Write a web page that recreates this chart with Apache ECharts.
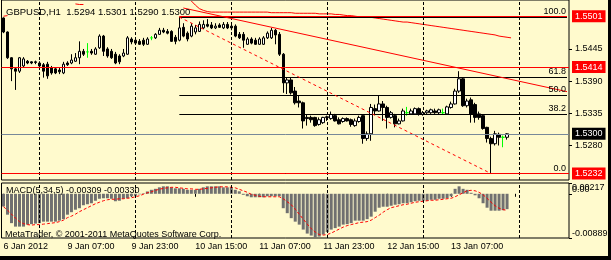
<!DOCTYPE html>
<html><head><meta charset="utf-8">
<script src="https://cdn.jsdelivr.net/npm/echarts@6/dist/echarts.min.js"></script>
<style>html,body{margin:0;padding:0;background:#FFFACD;}#c{width:611px;height:260px;}</style>
</head><body><div id="c"></div>
<script>
const symbol = 'GBPUSD,H1';
const timeLabels = ['6 Jan 2012','9 Jan 07:00','9 Jan 23:00','10 Jan 15:00','11 Jan 07:00','11 Jan 23:00','12 Jan 15:00','13 Jan 07:00'];
const labelStep = 16;
const totalSlots = 142;
const daySeparators = [9,33,57,81,105,129];

const opens = [1.5498,1.5474,1.5430,1.5411,1.5407,1.5416,1.5424,1.5423,1.5423,1.5421,
1.5418,1.5419,1.5413,1.5411,1.5409,1.5404,1.5421,1.5421,1.5424,1.5430,
1.5441,1.5440,1.5441,1.5436,1.5447,1.5467,1.5445,1.5441,1.5436,1.5433,
1.5433,1.5436,1.5462,1.5460,1.5458,1.5460,1.5453,1.5464,1.5464,1.5470,
1.5477,1.5475,1.5475,1.5465,1.5460,1.5482,1.5472,1.5467,1.5474,1.5475,
1.5481,1.5487,1.5486,1.5481,1.5486,1.5481,1.5487,1.5484,1.5484,1.5470,
1.5470,1.5453,1.5462,1.5460,1.5453,1.5453,1.5464,1.5464,1.5477,1.5470,
1.5436,1.5387,1.5392,1.5373,1.5356,1.5353,1.5328,1.5328,1.5328,1.5316,
1.5319,1.5329,1.5326,1.5331,1.5324,1.5321,1.5326,1.5324,1.5314,1.5321,
1.5331,1.5292,1.5300,1.5343,1.5339,1.5351,1.5345,1.5328,1.5331,1.5317,
1.5322,1.5336,1.5334,1.5334,1.5343,1.5333,1.5336,1.5336,1.5339,1.5336,
1.5336,1.5334,1.5345,1.5351,1.5373,1.5394,1.5348,1.5358,1.5350,1.5334,
1.5331,1.5311,1.5292,1.5283,1.5299,1.5294,1.5294];
const highs = [1.5499,1.5475,1.5431,1.5414,1.5431,1.5431,1.5426,1.5424,1.5425,1.5424,
1.5421,1.5423,1.5416,1.5414,1.5413,1.5423,1.5424,1.5436,1.5438,1.5458,
1.5445,1.5455,1.5445,1.5448,1.5470,1.5469,1.5448,1.5445,1.5440,1.5436,
1.5445,1.5467,1.5465,1.5464,1.5462,1.5464,1.5465,1.5467,1.5472,1.5481,
1.5481,1.5479,1.5477,1.5469,1.5500,1.5489,1.5475,1.5489,1.5486,1.5492,
1.5494,1.5496,1.5491,1.5489,1.5489,1.5491,1.5491,1.5487,1.5487,1.5474,
1.5474,1.5465,1.5465,1.5464,1.5465,1.5467,1.5475,1.5481,1.5479,1.5474,
1.5438,1.5397,1.5396,1.5380,1.5365,1.5355,1.5333,1.5331,1.5329,1.5328,
1.5329,1.5331,1.5338,1.5334,1.5328,1.5328,1.5328,1.5326,1.5326,1.5331,
1.5333,1.5304,1.5351,1.5350,1.5365,1.5356,1.5348,1.5339,1.5334,1.5326,
1.5343,1.5346,1.5343,1.5345,1.5345,1.5339,1.5341,1.5343,1.5343,1.5343,
1.5343,1.5348,1.5355,1.5377,1.5407,1.5397,1.5360,1.5362,1.5353,1.5338,
1.5333,1.5312,1.5295,1.5305,1.5302,1.5297,1.5301];
const lows = [1.5472,1.5428,1.5390,1.5375,1.5404,1.5413,1.5419,1.5419,1.5419,1.5413,
1.5396,1.5394,1.5401,1.5402,1.5402,1.5402,1.5416,1.5419,1.5423,1.5419,
1.5433,1.5430,1.5435,1.5435,1.5445,1.5433,1.5430,1.5428,1.5419,1.5419,
1.5431,1.5435,1.5453,1.5453,1.5452,1.5450,1.5452,1.5460,1.5462,1.5469,
1.5472,1.5470,1.5457,1.5453,1.5458,1.5465,1.5458,1.5465,1.5470,1.5474,
1.5479,1.5482,1.5479,1.5479,1.5481,1.5479,1.5479,1.5477,1.5465,1.5462,
1.5447,1.5452,1.5453,1.5452,1.5452,1.5452,1.5462,1.5462,1.5453,1.5433,
1.5370,1.5368,1.5367,1.5350,1.5345,1.5309,1.5314,1.5319,1.5312,1.5314,
1.5317,1.5322,1.5324,1.5321,1.5316,1.5319,1.5321,1.5312,1.5312,1.5319,
1.5283,1.5288,1.5288,1.5333,1.5338,1.5322,1.5309,1.5326,1.5311,1.5316,
1.5321,1.5331,1.5333,1.5333,1.5331,1.5331,1.5334,1.5334,1.5334,1.5333,
1.5333,1.5333,1.5343,1.5350,1.5370,1.5346,1.5345,1.5319,1.5319,1.5324,
1.5307,1.5285,1.5232,1.5280,1.5280,1.5277,1.5290];
const closes = [1.5474,1.5430,1.5411,1.5407,1.5430,1.5428,1.5421,1.5421,1.5422,1.5416,
1.5407,1.5399,1.5404,1.5404,1.5406,1.5419,1.5418,1.5426,1.5430,1.5441,
1.5436,1.5440,1.5438,1.5445,1.5467,1.5441,1.5433,1.5430,1.5421,1.5423,
1.5438,1.5464,1.5457,1.5455,1.5453,1.5453,1.5462,1.5464,1.5470,1.5477,
1.5474,1.5472,1.5458,1.5458,1.5481,1.5467,1.5462,1.5484,1.5481,1.5487,
1.5487,1.5484,1.5481,1.5484,1.5482,1.5487,1.5481,1.5481,1.5467,1.5464,
1.5460,1.5462,1.5455,1.5453,1.5462,1.5464,1.5472,1.5477,1.5469,1.5436,
1.5387,1.5392,1.5370,1.5353,1.5353,1.5322,1.5326,1.5324,1.5314,1.5324,
1.5328,1.5328,1.5333,1.5322,1.5317,1.5326,1.5322,1.5316,1.5322,1.5328,
1.5292,1.5300,1.5345,1.5339,1.5351,1.5345,1.5328,1.5336,1.5317,1.5322,
1.5339,1.5336,1.5339,1.5343,1.5334,1.5336,1.5339,1.5341,1.5336,1.5341,
1.5336,1.5346,1.5351,1.5373,1.5394,1.5348,1.5356,1.5334,1.5328,1.5328,
1.5309,1.5292,1.5283,1.5300,1.5294,1.5294,1.5300];

// long moving average (null where it runs above the visible price range)
const maLine = [1.5501,1.5502,
null,null,null,null,null,null,null,null,null,null,null,null,null,null,null,null,
1.5522,1.5521,1.5521,
null,null,null,null,null,null,null,null,null,null,null,null,null,
null,null,null,null,null,null,null,null,null,null,null,null,null,
1.5527,1.5520,1.5514,1.5511,1.5509,1.5508,1.5508,1.5508,1.5508,1.5508,1.5508,1.5508,1.5508,1.5508,
1.5508,1.5508,1.5508,1.5508,1.5508,1.5508,1.5507,1.5507,1.5507,1.5507,1.5507,1.5507,1.5506,1.5506,
1.5506,1.5506,1.5506,1.5506,1.5505,1.5505,1.5505,1.5505,1.5504,1.5504,1.5503,1.5502,1.5502,1.5501,
1.5500,1.5500,1.5499,1.5499,1.5498,1.5497,1.5496,1.5495,1.5494,1.5493,1.5492,1.5491,1.5491,1.5490,
1.5489,1.5488,1.5487,1.5486,1.5485,1.5484,1.5483,1.5482,1.5481,1.5480,1.5479,1.5478,1.5477,1.5476,
1.5475,1.5474,1.5473,1.5472,1.5471,1.5470,1.5469,1.5467,1.5466,1.5465,1.5464];

const macdHist = [-0.00255,-0.0042,-0.0059,-0.0066,-0.0066,-0.0066,-0.0062,-0.0061,-0.0060,-0.0059,
-0.0056,-0.0056,-0.0056,-0.0056,-0.0054,-0.0051,-0.0042,-0.0037,-0.0032,-0.0029,
-0.0023,-0.0021,-0.0019,-0.0014,-0.0010,-0.0009,-0.0009,-0.0010,-0.0015,-0.0014,
-0.0010,-0.0009,-0.0005,-0.0004,-0.0001,0.0001,0.00047,0.0008,0.0010,0.0013,
0.0015,0.0015,0.0013,0.0011,0.0011,0.0010,0.0008,0.0008,0.0008,0.0010,
0.0013,0.0015,0.0015,0.0015,0.0015,0.0013,0.0013,0.0013,0.0008,0.0005,
-0.0002,-0.0005,-0.0007,-0.0007,-0.0007,-0.0007,-0.0005,-0.0005,-0.0005,-0.0005,
-0.0029,-0.0039,-0.0049,-0.0056,-0.0062,-0.0072,-0.0080,-0.0084,-0.0088,-0.0086,
-0.0082,-0.0077,-0.0072,-0.0069,-0.0066,-0.0062,-0.0061,-0.0059,-0.0054,-0.0054,
-0.0054,-0.0051,-0.0046,-0.0036,-0.0028,-0.0026,-0.0026,-0.0024,-0.0022,-0.0021,
-0.0019,-0.0019,-0.0017,-0.0015,-0.0014,-0.0014,-0.0014,-0.0012,-0.0012,-0.0010,
-0.0010,-0.0009,-0.0005,0.0010,0.0015,0.0010,0.0008,0.0002,-0.0003,-0.0009,
-0.0019,-0.0028,-0.0034,-0.0034,-0.0034,-0.0033,-0.00309];
const macdSignal = [-0.0026,-0.0033,-0.0041,-0.0049,-0.0056,-0.0060,-0.0062,-0.0063,-0.0062,-0.0062,
-0.0061,-0.0060,-0.0059,-0.0058,-0.0056,-0.0053,-0.0048,-0.0045,-0.0041,-0.0036,
-0.0032,-0.0028,-0.0024,-0.0020,-0.0017,-0.0014,-0.0012,-0.0011,-0.0011,-0.0010,
-0.0010,-0.0009,-0.0008,-0.0006,-0.0004,-0.0001,0.0002,0.0004,0.0007,0.0009,
0.0011,0.0012,0.0013,0.0013,0.0012,0.0011,0.0010,0.0010,0.0009,0.0009,
0.0010,0.0011,0.0012,0.0013,0.0014,0.0014,0.0014,0.0013,0.0012,0.0009,
0.0006,0.0003,-0.0001,-0.0003,-0.0005,-0.0006,-0.0006,-0.0006,-0.0006,-0.0006,
-0.0010,-0.0016,-0.0022,-0.0031,-0.0041,-0.0051,-0.0061,-0.0070,-0.0077,-0.0082,
-0.0083,-0.0082,-0.0079,-0.0075,-0.0071,-0.0067,-0.0064,-0.0062,-0.0060,-0.0058,
-0.0057,-0.0056,-0.0053,-0.0048,-0.0043,-0.0037,-0.0032,-0.0028,-0.0026,-0.0024,
-0.0022,-0.0021,-0.0019,-0.0017,-0.0016,-0.0015,-0.0014,-0.0013,-0.0013,-0.0012,
-0.0011,-0.0010,-0.0009,-0.0006,-0.0002,0.0002,0.0006,0.0007,0.0006,0.0003,
-0.0002,-0.0009,-0.0017,-0.0024,-0.0029,-0.0032,-0.0033];
const macdParams = '5,34,5';
const macdMin = -0.00889, macdMax = 0.00217;

const priceMin = 1.52210, priceMax = 1.55287;
const priceTicks = [1.5445, 1.5390, 1.5335, 1.5280];
const bidPrice = 1.5300;
const redLevels = [1.5414, 1.5232];
const topRedLevel = 1.5501;
const topRedStart = 44;
const fibLow = 1.5232, fibHigh = 1.54995, fibStartIdx = 44, fibEndIdx = 122;
const fibLevels = [0, 38.2, 50, 61.8, 100];
const trendLine = [[45, 1.5515], [141, 1.5372]];

const FONT = 'Liberation Sans, Arial, sans-serif';
const BG = '#FFFACD';
const cats = Array.from({length: totalSlots}, (_, i) => String(i));
const last = opens.length - 1;

const candleData = opens.map((o, i) => {
  const item = {value: [o, closes[i], lows[i], highs[i]]};
  if (o === closes[i]) item.itemStyle = {color: '#00FF00', color0: '#00FF00', borderColor: '#00FF00', borderColor0: '#00FF00'};
  return item;
});

const boxLabel = (bg) => ({show: true, position: 'end', distance: 3, formatter: p => p.value.toFixed(4),
  backgroundColor: bg, color: '#fff', fontSize: 9, fontFamily: FONT, padding: [2, 3, 1, 3]});

const mlData = [];
daySeparators.forEach(d => mlData.push({xAxis: d, lineStyle: {color: '#000', type: [3, 2], width: 1}, label: {show: false}}));
fibLevels.forEach(l => {
  const v = fibLow + (fibHigh - fibLow) * l / 100;
  mlData.push([{coord: [fibStartIdx, v], lineStyle: {color: '#000', width: 1, type: 'solid'},
    label: {show: true, position: 'insideEndTop', distance: 1, formatter: l.toFixed(1), color: '#000', fontSize: 9, fontFamily: FONT}},
    {coord: [totalSlots - 1, v]}]);
});
mlData.push([{coord: [fibStartIdx, fibHigh], lineStyle: {color: '#FF0000', width: 1, type: [3, 3]}, label: {show: false}},
  {coord: [fibEndIdx, fibLow]}]);
mlData.push([{coord: trendLine[0], lineStyle: {color: '#FF0000', width: 1, type: 'solid'}, label: {show: false}},
  {coord: trendLine[1]}]);
mlData.push({yAxis: bidPrice, lineStyle: {color: '#778899', width: 1, type: 'solid'}, label: boxLabel('#000')});
redLevels.forEach(v => mlData.push({yAxis: v, lineStyle: {color: '#FF0000', width: 1, type: 'solid'}, label: boxLabel('#FF0000')}));
mlData.push([{coord: [topRedStart, topRedLevel], lineStyle: {color: '#FF0000', width: 1, type: 'solid'}, label: {show: false}},
  {coord: [totalSlots - 1, topRedLevel]}]);
mlData.push({yAxis: topRedLevel, lineStyle: {color: 'rgba(0,0,0,0)', width: 0}, label: boxLabel('#FF0000')});

const axisFont = {color: '#000', fontSize: 9, fontFamily: FONT};

const option = {
  backgroundColor: BG,
  animation: false,
  title: [
    {text: `${symbol}  ${opens[last].toFixed(4)} ${highs[last].toFixed(4)} ${lows[last].toFixed(4)} ${closes[last].toFixed(4)}`,
      left: 6, top: 7, padding: 0, textStyle: {fontSize: 9.5, fontWeight: 'normal', color: '#000', fontFamily: FONT}},
    {text: `MACD(${macdParams}) ${macdHist[last].toFixed(5)} ${macdSignal[last].toFixed(5)}`,
      left: 6, top: 186, padding: 0, textStyle: {fontSize: 9, fontWeight: 'normal', color: '#000', fontFamily: FONT}},
    {text: 'MetaTrader, \u00A9 2001-2011 MetaQuotes Software Corp.',
      left: 5, top: 230, padding: 0, textStyle: {fontSize: 9, fontWeight: 'normal', color: '#000', fontFamily: FONT}}
  ],
  grid: [
    {left: 1.5, top: -1, width: 567.5, height: 181, show: true, borderColor: '#000', borderWidth: 1, backgroundColor: 'transparent'},
    {left: 1.5, top: 183, width: 567.5, height: 55, show: true, borderColor: '#000', borderWidth: 1, backgroundColor: 'transparent'}
  ],
  xAxis: [
    {gridIndex: 0, type: 'category', data: cats, boundaryGap: true, axisLine: {show: false}, axisTick: {show: false}, axisLabel: {show: false}, splitLine: {show: false}},
    {gridIndex: 1, type: 'category', data: cats, boundaryGap: true, axisLine: {show: false},
      axisTick: {show: true, interval: labelStep - 1, alignWithLabel: true, length: 3, lineStyle: {color: '#000'}},
      axisLabel: Object.assign({interval: labelStep - 1, align: 'left', margin: 4,
        formatter: (v, i) => timeLabels[Math.round(i / labelStep)] || ''}, axisFont),
      splitLine: {show: false}}
  ],
  yAxis: [
    {gridIndex: 0, type: 'value', position: 'right', min: priceMin, max: priceMax, splitLine: {show: false},
      axisLine: {show: false}, axisTick: {show: true, length: 3, customValues: priceTicks, lineStyle: {color: '#000'}},
      axisLabel: Object.assign({customValues: priceTicks, formatter: v => v.toFixed(4), margin: 6}, axisFont)},
    {gridIndex: 1, type: 'value', position: 'right', min: macdMin, max: macdMax, splitLine: {show: false},
      axisLine: {show: false}, axisTick: {show: true, length: 3, customValues: [macdMax, 0, macdMin], lineStyle: {color: '#000'}},
      axisLabel: Object.assign({customValues: [macdMax], formatter: v => v.toFixed(5), margin: 3, verticalAlign: 'top'}, axisFont)},
    {gridIndex: 1, type: 'value', position: 'right', min: macdMin, max: macdMax, splitLine: {show: false},
      axisLine: {show: false}, axisTick: {show: false},
      axisLabel: Object.assign({customValues: [0, macdMin], formatter: v => (Math.abs(v) < 1e-12 ? '0.00' : v.toFixed(5)), margin: 3, verticalAlign: 'bottom'}, axisFont)}
  ],
  series: [
    {type: 'line', xAxisIndex: 0, yAxisIndex: 0, data: maLine, symbol: 'none', clip: true, connectNulls: false,
      lineStyle: {color: '#FF0000', width: 1}, z: 3},
    {type: 'candlestick', xAxisIndex: 0, yAxisIndex: 0, data: candleData, barWidth: 3,
      itemStyle: {color: '#FFFFFF', color0: '#000000', borderColor: '#000000', borderColor0: '#000000', borderWidth: 1},
      markLine: {symbol: ['none', 'none'], silent: true, animation: false, precision: 5, data: mlData}, z: 2},
    {type: 'bar', xAxisIndex: 1, yAxisIndex: 1, data: macdHist, barWidth: 3, itemStyle: {color: '#707070'},
      markLine: {symbol: ['none', 'none'], silent: true, animation: false, label: {show: false},
        data: daySeparators.map(d => ({xAxis: d, lineStyle: {color: '#000', type: [3, 2], width: 1}}))}},
    {type: 'line', xAxisIndex: 1, yAxisIndex: 1, data: macdSignal, symbol: 'none',
      lineStyle: {color: '#FF0000', width: 1, type: [3, 2]}}
  ],
  graphic: [
    {type: 'rect', shape: {x: 608, y: 0, width: 3, height: 260}, style: {fill: '#000'}},
    {type: 'rect', shape: {x: 0, y: 256, width: 611, height: 4}, style: {fill: '#000'}}
  ]
};
const chart = echarts.init(document.getElementById('c'), null, {renderer: 'canvas'});
chart.setOption(option);
</script></body></html>
